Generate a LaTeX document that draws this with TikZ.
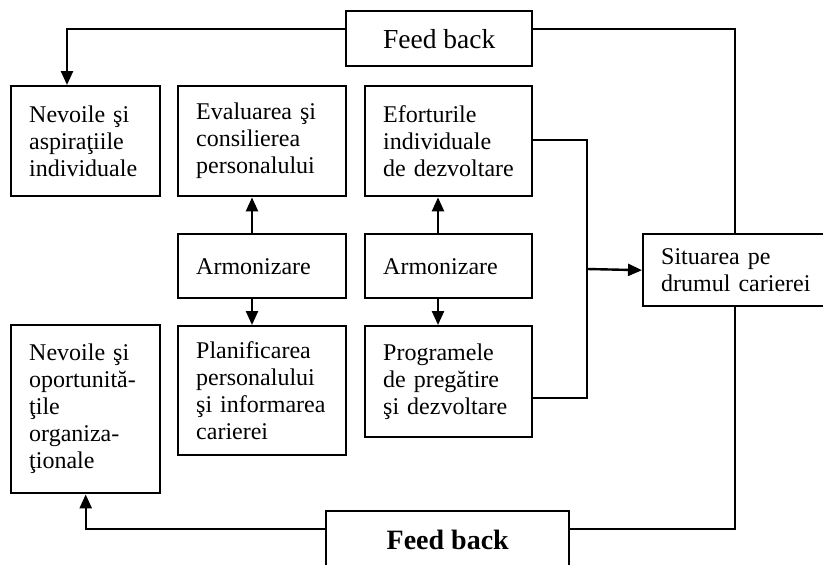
\documentclass[tikz,border=0pt]{standalone}
\usepackage{fontspec}
\setmainfont{Liberation Serif}
\usetikzlibrary{arrows.meta,calc}
\newcommand\fs{\fontsize{24}{27}\selectfont\hyphenpenalty=10000\exhyphenpenalty=10000}
\begin{document}
\begin{tikzpicture}[x=1pt,y=-1pt,
  box/.style={draw, line width=2.4pt, rectangle, anchor=north west, inner xsep=18pt, inner ysep=0pt, align=left, font=\fs},
  fb/.style={draw, line width=2.4pt, rectangle, anchor=north west, inner sep=0pt, align=center},
  ln/.style={line width=2.4pt},
  arr/.style={line width=2.4pt, -{Triangle[length=14pt,width=12pt]}}]
\useasboundingbox (0,0) rectangle (823,565);
\node[fb, minimum width=186pt, minimum height=55pt, font=\fontsize{27.5}{30}\selectfont] (fbtop) at (345,10) {Feed back};
\node[box, text width=113pt, minimum height=110pt] (n1) at (10,85) {Nevoile~şi\\aspiraţiile\\individuale};
\node[box, text width=132pt, minimum height=110pt] (n2) at (177,85) {Evaluarea~şi\\consilierea\\personalului};
\node[box, text width=131pt, minimum height=110pt] (n3) at (364,85) {Eforturile\\individuale\\de~dezvoltare};
\node[box, text width=132pt, minimum height=64pt] (a2) at (177,233) {Armonizare};
\node[box, text width=131pt, minimum height=64pt] (a3) at (364,233) {Armonizare};
\node[box, text width=162pt, minimum height=72pt] (sit) at (642,233) {Situarea~pe\\drumul~carierei};
\node[box, text width=113pt, minimum height=168pt] (n4) at (10,324) {Nevoile~şi\\oportunită-\\ţile\\organiza-\\ţionale};
\node[box, text width=132pt, minimum height=129pt] (p2) at (177,325) {Planificarea\\personalului\\şi~informarea\\carierei};
\node[box, text width=131pt, minimum height=111pt] (p3) at (364,325) {Programele\\de~pregătire\\şi~dezvoltare};
\node[fb, minimum width=243pt, minimum height=57pt, font=\fontsize{28}{31}\selectfont\bfseries] (fbbot) at (325,510) {Feed back};
\coordinate (j) at (587,269);
\draw[arr] ([yshift=-19pt]fbtop.north west) -| ([xshift=57pt]n1.north west);
\draw[ln] ([yshift=-19pt]fbtop.north east) -| ([xshift=93pt]sit.north west);
\draw[ln] ([xshift=93pt]sit.south west) |- ([yshift=-19pt]fbbot.north east);
\draw[arr] ([yshift=-19pt]fbbot.north west) -| (n4.south);
\draw[arr] ([xshift=75pt]a2.north west) -- ([xshift=75pt]n2.south west);
\draw[arr] ([xshift=75pt]a2.south west) -- ([xshift=75pt]p2.north west);
\draw[arr] ([xshift=74pt]a3.north west) -- ([xshift=74pt]n3.south west);
\draw[arr] ([xshift=74pt]a3.south west) -- ([xshift=74pt]p3.north west);
\draw[ln] ([yshift=-55pt]n3.north east) -| (j) |- ([yshift=-73pt]p3.north east);
\draw[arr] (j) -- (sit.west);
\end{tikzpicture}
\end{document}
